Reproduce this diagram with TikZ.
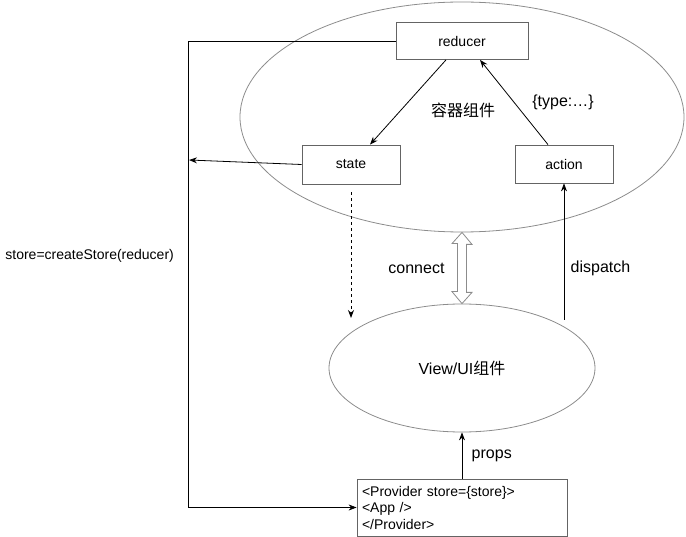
\documentclass[tikz,border=0pt]{standalone}
\usepackage{fontspec}
\setmainfont{Liberation Sans}
\newfontfamily\cjk{Noto Sans CJK SC}
\usetikzlibrary{shapes.geometric,arrows.meta}
\definecolor{boxGray}{RGB}{100,100,100}
\definecolor{ovalGray}{RGB}{140,140,140}

\begin{document}
\begin{tikzpicture}[x=1pt,y=-1pt,
		box/.style={draw=boxGray,line width=0.8pt,inner sep=0pt,font=\fontsize{14}{16.5}\selectfont},
		oval/.style={draw=ovalGray,ellipse,line width=0.8pt,inner sep=0pt},
		lbl/.style={font=\fontsize{16}{19}\selectfont},
		arr/.style={-{Stealth[length=8pt,width=6pt]},line width=0.8pt}]
		\useasboundingbox (0,0) rectangle (686,537);
		
		\node[oval,minimum width=444,minimum height=230] (container) at (462,117) {};
		\node[oval,lbl,minimum width=266,minimum height=128] (view) at (462,368) {View/UI\cjk 组件};
		
		\node[box,minimum width=132,minimum height=37] (reducer) at (462,41) {reducer};
		\node[box,minimum width=98,minimum height=39] (state) at (351,164.5) {state};
		\node[box,minimum width=98,minimum height=38] (action) at (564,164) {action};
		\node[box,text width=200pt,align=left,inner sep=5pt,minimum height=57] (provider) at (462,507.5) {<Provider store=\{store\}>\\<App />\\</Provider>};
		
		\node[lbl] (title) at (463,110) {\cjk 容器组件};
		\node[lbl] (type) at (563,102) {\{type:…\}};
		\node[box,draw=none,anchor=west] (store) at (5,256) {store=createStore(reducer)};
		
		\coordinate (bus) at (188,41);
		\coordinate (stateend) at (189,160);
		\coordinate (dashend) at (351,318);
		\coordinate (dispstart) at (564,320);
		
		\draw[arr] ([xshift=-16pt]reducer.south) -- ([xshift=19pt]state.north);
		\draw[arr] ([xshift=-16pt]action.north) -- ([xshift=18pt]reducer.south);
		\draw[arr] (reducer.west) -- (reducer.west -| bus) |- (provider.west);
		\draw[arr] (state.west) -- (stateend);
		\draw[arr,dashed] ([yshift=-8pt]state.south) -- (dashend);
		\draw[arr] (dispstart) -- (action.south) node[lbl,pos=0.38,right=3pt]{dispatch};
		\draw[arr] (provider.north) -- (view.south) node[lbl,midway,right=6pt]{props};
		
		\draw[ovalGray,line width=0.8pt,fill=white] (container.south) -- ++(10,12) -- ++(-5.5,0) -- ++(0,48) -- ++(5.5,0) -- (view.north) -- ++(-10,-12) -- ++(5.5,0) -- ++(0,-48) -- ++(-5.5,0) -- cycle;
		\node[lbl,anchor=east] (connect) at (448,268) {connect};
	\end{tikzpicture}
\end{document}
